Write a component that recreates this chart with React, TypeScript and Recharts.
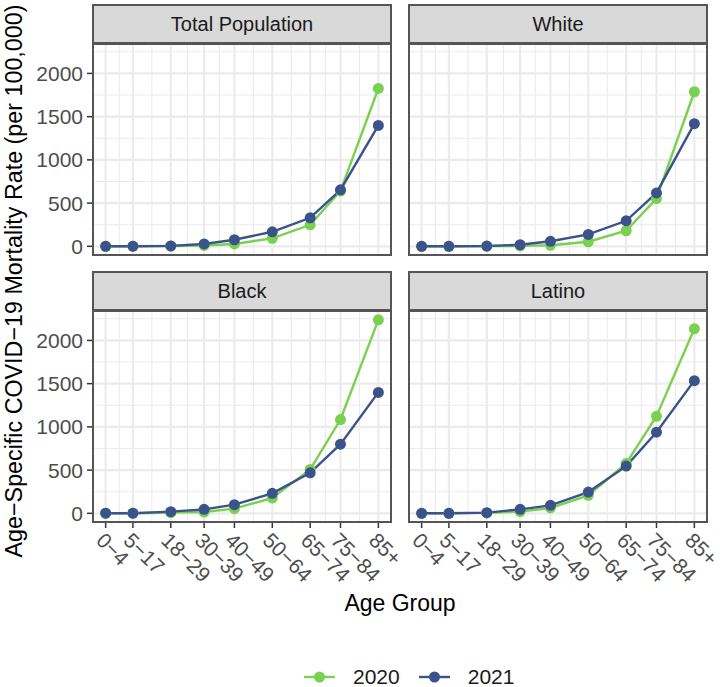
import { LineChart, Line, XAxis, YAxis, CartesianGrid } from 'recharts';

const FONT = '"Liberation Sans", Arial, Helvetica, sans-serif';

// age groups, plotted at the midpoint of each band
const AGE_LABELS = ['0−4', '5−17', '18−29', '30−39', '40−49', '50−64', '65−74', '75−84', '85+'];
const AGE_X = [2, 11, 23.5, 34.5, 44.5, 57, 69.5, 79.5, 92];
const X_MINOR = [6.5, 17.25, 29, 39.5, 50.75, 63.25, 74.5, 85.75];
const Y_TICKS = [0, 500, 1000, 1500, 2000];
const Y_MINOR = [250, 750, 1250, 1750, 2250];

// rates per 100,000
const TOTAL_2020 = [0.5, 0.5, 3, 10, 27, 92, 249, 640, 1826];
const TOTAL_2021 = [0.5, 1, 5, 27, 76, 168, 330, 653, 1399];
const WHITE_2020 = [0.5, 0.5, 2, 5, 12, 53, 180, 553, 1788];
const WHITE_2021 = [0.5, 0.5, 3, 18, 58, 138, 295, 618, 1419];
const BLACK_2020 = [0.5, 0.5, 8, 15, 54, 177, 508, 1085, 2238];
const BLACK_2021 = [1, 1, 19, 46, 100, 231, 469, 800, 1399];
const LATINO_2020 = [0.5, 0.5, 5, 19, 62, 208, 577, 1123, 2135];
const LATINO_2021 = [0.5, 0.5, 8, 46, 92, 246, 546, 938, 1535];

const YEARS = ['2020', '2021'];
const COLORS: Record<string, string> = { '2020': '#7AD151', '2021': '#3B528B' };

const PANELS = [
  { title: 'Total Population', y2020: TOTAL_2020, y2021: TOTAL_2021 },
  { title: 'White', y2020: WHITE_2020, y2021: WHITE_2021 },
  { title: 'Black', y2020: BLACK_2020, y2021: BLACK_2021 },
  { title: 'Latino', y2020: LATINO_2020, y2021: LATINO_2021 },
];

const COL_LEFT = [92, 408];
const COL_PAD_RIGHT = [30, 12]; // room for the last rotated tick label
const ROW_TOP = [43, 310];
const STRIP_H = 40;
const PLOT_W = 300;
const PLOT_H = 213;
const Y_AXIS_W = 92;
const X_AXIS_H = 75;
const PAD = 12;

function AgeTick(props: any) {
  const { x, y, payload } = props;
  const i = AGE_X.indexOf(payload.value);
  return (
    <g transform={`translate(${x},${y})`}>
      <text transform="rotate(45)" textAnchor="start" dy="0.72em" fill="#4d4d4d" fontSize={21} fontFamily={FONT}>
        {AGE_LABELS[i]}
      </text>
    </g>
  );
}

function Panel({ idx }: { idx: number }) {
  const p = PANELS[idx];
  const col = idx % 2;
  const row = Math.floor(idx / 2);
  const showY = col === 0;
  const showX = row === 1;
  const left = COL_LEFT[col];
  const top = ROW_TOP[row];
  const padR = COL_PAD_RIGHT[col];
  const data = AGE_X.map((x, i) => ({ x, y2020: p.y2020[i], y2021: p.y2021[i] }));

  return (
    <>
      <div
        style={{
          position: 'absolute', left, top: top - STRIP_H + 1, width: PLOT_W, height: STRIP_H,
          boxSizing: 'border-box', border: '2px solid #555', background: '#d9d9d9',
          display: 'flex', alignItems: 'center', justifyContent: 'center',
          fontSize: 20, color: '#1a1a1a', lineHeight: '36px',
        }}
      >
        {p.title}
      </div>
      <div style={{ position: 'absolute', left: left - (showY ? Y_AXIS_W : 0), top: top - PAD }}>
        <LineChart
          width={PLOT_W + (showY ? Y_AXIS_W : 0) + padR}
          height={PAD + PLOT_H + (showX ? X_AXIS_H : PAD)}
          data={data}
          margin={{ top: PAD, right: padR, bottom: showX ? 0 : PAD, left: 0 }}
        >
          <CartesianGrid stroke="#ebebeb" strokeWidth={1.1} verticalValues={X_MINOR} horizontalValues={Y_MINOR} />
          <CartesianGrid stroke="#ebebeb" strokeWidth={2.2} verticalValues={AGE_X} horizontalValues={Y_TICKS} />
          <XAxis
            type="number"
            dataKey="x"
            domain={[-2.5, 96.5]}
            ticks={AGE_X}
            interval={0}
            hide={!showX}
            height={X_AXIS_H}
            axisLine={false}
            tickSize={5}
            tickMargin={3}
            tickLine={{ stroke: '#333', strokeWidth: 1.5 }}
            tick={<AgeTick />}
          />
          <YAxis
            type="number"
            domain={[-112, 2352]}
            ticks={Y_TICKS}
            interval={0}
            allowDataOverflow
            hide={!showY}
            width={Y_AXIS_W}
            axisLine={false}
            tickSize={5}
            tickMargin={4}
            tickLine={{ stroke: '#333', strokeWidth: 1.5 }}
            tick={{ fill: '#4d4d4d', fontSize: 21, fontFamily: FONT }}
          />
          {YEARS.map((yr) => (
            <Line
              key={yr}
              type="linear"
              dataKey={`y${yr}`}
              stroke={COLORS[yr]}
              strokeWidth={2.4}
              dot={{ r: 5.5, fill: COLORS[yr], stroke: COLORS[yr], strokeWidth: 0 }}
              activeDot={false}
              isAnimationActive={false}
            />
          ))}
        </LineChart>
      </div>
      <div
        style={{
          position: 'absolute', left, top, width: PLOT_W, height: PLOT_H,
          boxSizing: 'border-box', border: '2px solid #555', pointerEvents: 'none',
        }}
      />
    </>
  );
}

function LegendKey({ year }: { year: string }) {
  const c = COLORS[year];
  return (
    <div style={{ display: 'flex', alignItems: 'center' }}>
      <svg width={31} height={14}>
        <line x1={0} y1={7} x2={31} y2={7} stroke={c} strokeWidth={2.4} />
        <circle cx={15.5} cy={7} r={5.5} fill={c} />
      </svg>
      <span style={{ marginLeft: 18, marginRight: 19, fontSize: 21, lineHeight: '21px', color: '#1a1a1a' }}>{year}</span>
    </div>
  );
}

export default function App() {
  return (
    <div style={{ position: 'absolute', left: 0, top: 0, width: 720, height: 687, background: '#fff', fontFamily: FONT, overflow: 'hidden' }}>
      {PANELS.map((_, i) => (
        <Panel key={i} idx={i} />
      ))}
      <div
        style={{
          position: 'absolute', left: 14, top: 281, transform: 'translate(-50%, -50%) rotate(-90deg)',
          whiteSpace: 'nowrap', fontSize: 23.3, lineHeight: '23px', color: '#000',
        }}
      >
        Age−Specific COVID−19 Mortality Rate (per 100,000)
      </div>
      <div
        style={{
          position: 'absolute', left: 92, width: 616, top: 592, textAlign: 'center',
          fontSize: 23, lineHeight: '23px', color: '#000',
        }}
      >
        Age Group
      </div>
      <div style={{ position: 'absolute', left: 304, top: 666, display: 'flex', alignItems: 'center' }}>
        {YEARS.map((yr) => (
          <LegendKey key={yr} year={yr} />
        ))}
      </div>
    </div>
  );
}
